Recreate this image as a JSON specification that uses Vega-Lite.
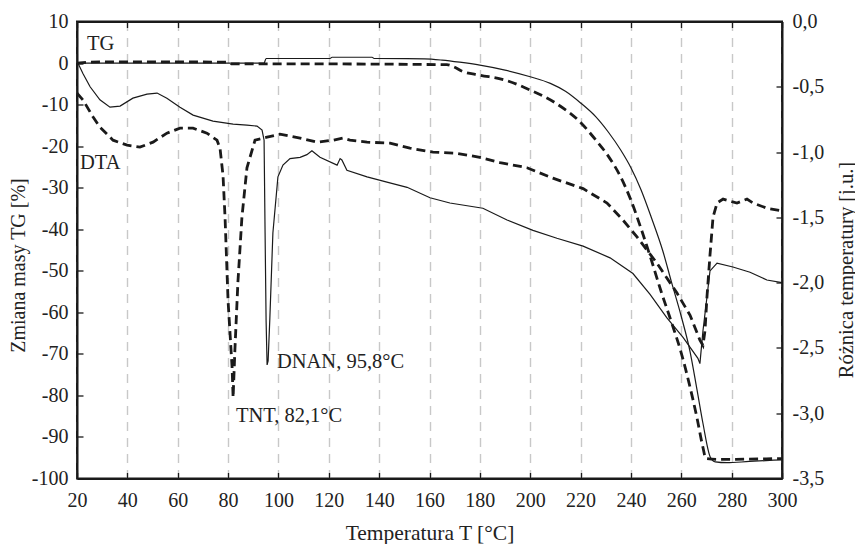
{
  "$schema": "https://vega.github.io/schema/vega-lite/v6.json",
  "width": 705,
  "height": 457,
  "autosize": "none",
  "padding": {"left": 77, "top": 21.5, "right": 73, "bottom": 65.5},
  "background": "white",
  "config": {
    "font": "Liberation Serif",
    "view": {"stroke": "#1a1a1a", "strokeWidth": 2},
    "axis": {
      "domainColor": "#1a1a1a",
      "domainWidth": 2,
      "tickColor": "#1a1a1a",
      "tickWidth": 1.3,
      "tickSize": -6,
      "labelFont": "Liberation Serif",
      "labelFontSize": 20,
      "labelColor": "#222222",
      "labelFlush": false,
      "labelOverlap": false,
      "titleFont": "Liberation Serif",
      "titleFontSize": 20,
      "titleFontWeight": "normal",
      "titleColor": "#222222",
      "grid": false
    }
  },
  "datasets": {
    "tg_dnan": [
      {"T": 20, "v": 0}, {"T": 94.3, "v": 0}, {"T": 95.1, "v": 1.1}, {"T": 120.5, "v": 1.1}, {"T": 121.3, "v": 1.4},
      {"T": 137.2, "v": 1.4}, {"T": 138, "v": 1.1}, {"T": 158, "v": 1.0}, {"T": 165, "v": 0.7}, {"T": 172, "v": 0.2},
      {"T": 180, "v": -0.5}, {"T": 190, "v": -1.7}, {"T": 200, "v": -3.3}, {"T": 208, "v": -4.9}, {"T": 214, "v": -6.8},
      {"T": 220, "v": -9.6}, {"T": 226, "v": -12.9}, {"T": 231, "v": -16.6}, {"T": 236, "v": -21}, {"T": 240, "v": -25.2},
      {"T": 244, "v": -30.5}, {"T": 248, "v": -37}, {"T": 252.7, "v": -45.3}, {"T": 256, "v": -52.5}, {"T": 260, "v": -61},
      {"T": 263.5, "v": -69.5}, {"T": 266.2, "v": -78.5}, {"T": 268.6, "v": -86.7}, {"T": 271.5, "v": -94.8},
      {"T": 273.5, "v": -96.0}, {"T": 278, "v": -96.2}, {"T": 287, "v": -95.9}, {"T": 300, "v": -95.5}
    ],
    "tg_tnt": [
      {"T": 20, "v": 0}, {"T": 29, "v": 0.3}, {"T": 49, "v": 0.3}, {"T": 80, "v": 0.2}, {"T": 81.6, "v": -0.2},
      {"T": 108.6, "v": -0.2}, {"T": 166.9, "v": -0.4}, {"T": 170, "v": -1.0}, {"T": 173, "v": -2.0}, {"T": 180, "v": -2.9},
      {"T": 190, "v": -4.1}, {"T": 200, "v": -6.5}, {"T": 210, "v": -9.6}, {"T": 220, "v": -14.3}, {"T": 226, "v": -18.5},
      {"T": 231, "v": -22.4}, {"T": 236, "v": -27.5}, {"T": 240, "v": -33}, {"T": 244, "v": -39.8}, {"T": 248, "v": -47.2},
      {"T": 252, "v": -55}, {"T": 256, "v": -62.2}, {"T": 260, "v": -69.8}, {"T": 263, "v": -76.8}, {"T": 266.2, "v": -85.3},
      {"T": 268.6, "v": -92.5}, {"T": 269.8, "v": -95.2}, {"T": 275, "v": -95.4}, {"T": 300, "v": -95.2}
    ],
    "dta_dnan": [
      {"T": 20.4, "v": -0.32}, {"T": 22.4, "v": -0.4}, {"T": 25.2, "v": -0.5}, {"T": 29.1, "v": -0.6}, {"T": 33.1, "v": -0.656},
      {"T": 37.1, "v": -0.648}, {"T": 42.2, "v": -0.587}, {"T": 47.8, "v": -0.556}, {"T": 51.8, "v": -0.548}, {"T": 55.7, "v": -0.587},
      {"T": 60.9, "v": -0.656}, {"T": 66.1, "v": -0.717}, {"T": 74.0, "v": -0.763}, {"T": 82.0, "v": -0.786}, {"T": 87.5, "v": -0.794},
      {"T": 91.5, "v": -0.801}, {"T": 93.5, "v": -0.832}, {"T": 94.3, "v": -0.909}, {"T": 94.7, "v": -1.62}, {"T": 95.1, "v": -2.29},
      {"T": 95.5, "v": -2.63}, {"T": 95.9, "v": -2.6}, {"T": 96.6, "v": -2.27}, {"T": 97.8, "v": -1.62}, {"T": 99.8, "v": -1.19},
      {"T": 101.8, "v": -1.1}, {"T": 104.6, "v": -1.05}, {"T": 108.6, "v": -1.04}, {"T": 111.3, "v": -1.02}, {"T": 113.3, "v": -0.99},
      {"T": 116.5, "v": -1.04}, {"T": 123.3, "v": -1.1}, {"T": 124.5, "v": -1.05}, {"T": 125.2, "v": -1.06}, {"T": 127.2, "v": -1.14},
      {"T": 135.2, "v": -1.19}, {"T": 143.1, "v": -1.23}, {"T": 151.1, "v": -1.27}, {"T": 160.2, "v": -1.35}, {"T": 168.1, "v": -1.39},
      {"T": 181.2, "v": -1.43}, {"T": 190.8, "v": -1.52}, {"T": 201.1, "v": -1.6}, {"T": 210.6, "v": -1.66}, {"T": 221, "v": -1.72},
      {"T": 231.7, "v": -1.81}, {"T": 240.8, "v": -1.93}, {"T": 247.6, "v": -2.09}, {"T": 254.3, "v": -2.27}, {"T": 260.7, "v": -2.42},
      {"T": 266.6, "v": -2.58}, {"T": 267.4, "v": -2.62}, {"T": 268.6, "v": -2.37}, {"T": 270.2, "v": -2.11}, {"T": 271.4, "v": -1.91},
      {"T": 274.2, "v": -1.85}, {"T": 280.5, "v": -1.88}, {"T": 287.3, "v": -1.92}, {"T": 294, "v": -1.98}, {"T": 300, "v": -2.0}
    ],
    "dta_tnt": [
      {"T": 20, "v": -0.548}, {"T": 22.4, "v": -0.602}, {"T": 26.4, "v": -0.732}, {"T": 29.1, "v": -0.809}, {"T": 34.3, "v": -0.909},
      {"T": 39.9, "v": -0.947}, {"T": 45.0, "v": -0.962}, {"T": 50.2, "v": -0.924}, {"T": 55.7, "v": -0.855}, {"T": 60.9, "v": -0.817},
      {"T": 66.1, "v": -0.817}, {"T": 71.6, "v": -0.855}, {"T": 75.6, "v": -0.909}, {"T": 76.8, "v": -0.97}, {"T": 78.0, "v": -1.18},
      {"T": 78.8, "v": -1.5}, {"T": 80.0, "v": -2.14}, {"T": 81.6, "v": -2.65}, {"T": 82.0, "v": -2.88}, {"T": 82.7, "v": -2.52},
      {"T": 83.9, "v": -2.0}, {"T": 85.5, "v": -1.5}, {"T": 87.5, "v": -1.12}, {"T": 90.7, "v": -0.909}, {"T": 95.5, "v": -0.886},
      {"T": 100.6, "v": -0.863}, {"T": 108.6, "v": -0.893}, {"T": 115.3, "v": -0.924}, {"T": 121.7, "v": -0.909}, {"T": 125.6, "v": -0.893},
      {"T": 128.4, "v": -0.909}, {"T": 135.2, "v": -0.924}, {"T": 144.3, "v": -0.932}, {"T": 152.2, "v": -0.97}, {"T": 161.4, "v": -1.0},
      {"T": 170.9, "v": -1.01}, {"T": 180.0, "v": -1.04}, {"T": 188.0, "v": -1.08}, {"T": 198.7, "v": -1.12}, {"T": 209.0, "v": -1.2},
      {"T": 221, "v": -1.28}, {"T": 230.5, "v": -1.39}, {"T": 236.8, "v": -1.52}, {"T": 242.4, "v": -1.65}, {"T": 250.3, "v": -1.85},
      {"T": 258.3, "v": -2.08}, {"T": 263.5, "v": -2.25}, {"T": 267.4, "v": -2.44}, {"T": 268.6, "v": -2.48}, {"T": 269.4, "v": -2.37},
      {"T": 270.2, "v": -2.11}, {"T": 271.4, "v": -1.79}, {"T": 272.6, "v": -1.5}, {"T": 274.2, "v": -1.39}, {"T": 276.6, "v": -1.36},
      {"T": 280.1, "v": -1.38}, {"T": 282.1, "v": -1.39}, {"T": 286.1, "v": -1.36}, {"T": 288.5, "v": -1.39}, {"T": 294.0, "v": -1.43},
      {"T": 300, "v": -1.45}
    ],
    "labels": [
      {"T": 24, "v": 3.1, "label": "TG"},
      {"T": 21.2, "v": -25.5, "label": "DTA"},
      {"T": 99.4, "v": -73.5, "label": "DNAN, 95,8°C"},
      {"T": 83.1, "v": -86.5, "label": "TNT, 82,1°C"}
    ]
  },
  "layer": [
    {
      "encoding": {
        "x": {
          "field": "T", "type": "quantitative",
          "scale": {"domain": [20, 300], "nice": false, "zero": false},
          "axis": {
            "orient": "bottom",
            "values": [20, 40, 60, 80, 100, 120, 140, 160, 180, 200, 220, 240, 260, 280, 300],
            "format": "d",
            "grid": true, "gridDash": [9, 7], "gridColor": "#c8c8c8", "gridWidth": 1.4,
            "labelPadding": 18,
            "title": "Temperatura T [°C]",
            "titleFontSize": 21.5,
            "titleBaseline": "alphabetic",
            "titleY": 60.5
          }
        },
        "y": {
          "field": "v", "type": "quantitative",
          "scale": {"domain": [-100, 10], "nice": false, "zero": false},
          "axis": {
            "orient": "left",
            "values": [-100, -90, -80, -70, -60, -50, -40, -30, -20, -10, 0, 10],
            "labelExpr": "'' + datum.value",
            "labelPadding": 15,
            "title": "Zmiana masy TG [%]",
            "titleAngle": 270,
            "titleAlign": "center",
            "titleBaseline": "middle",
            "titleX": -59,
            "titleY": 243.5
          }
        }
      },
      "layer": [
        {"data": {"name": "tg_dnan"}, "mark": {"type": "line", "color": "#1a1a1a", "strokeWidth": 1.2, "interpolate": "monotone"}},
        {"data": {"name": "tg_tnt"}, "mark": {"type": "line", "color": "#1a1a1a", "strokeWidth": 2.8, "strokeDash": [9, 5], "interpolate": "monotone"}},
        {
          "data": {"name": "labels"},
          "mark": {"type": "text", "align": "left", "baseline": "alphabetic", "font": "Liberation Serif", "fontSize": 20.5, "color": "#222222"},
          "encoding": {"text": {"field": "label"}}
        }
      ]
    },
    {
      "encoding": {
        "x": {
          "field": "T", "type": "quantitative",
          "scale": {"domain": [20, 300], "nice": false, "zero": false},
          "axis": {
            "orient": "top",
            "values": [20, 40, 60, 80, 100, 120, 140, 160, 180, 200, 220, 240, 260, 280, 300],
            "labels": false,
            "title": null,
            "grid": false
          }
        },
        "y": {
          "field": "v", "type": "quantitative",
          "scale": {"domain": [-3.5, 0], "nice": false, "zero": false},
          "axis": {
            "orient": "right",
            "values": [-3.5, -3, -2.5, -2, -1.5, -1, -0.5, 0],
            "labelExpr": "replace(replace(format(datum.value, '.1f'), '.', ','), '−', '-')",
            "labelPadding": 16,
            "title": "Różnica temperatury [j.u.]",
            "titleFontSize": 20.5,
            "titleAngle": 270,
            "titleAlign": "center",
            "titleBaseline": "middle",
            "titleX": 64,
            "titleY": 248
          }
        }
      },
      "layer": [
        {"data": {"name": "dta_dnan"}, "mark": {"type": "line", "color": "#1a1a1a", "strokeWidth": 1.2}},
        {"data": {"name": "dta_tnt"}, "mark": {"type": "line", "color": "#1a1a1a", "strokeWidth": 2.8, "strokeDash": [9, 5]}}
      ]
    }
  ],
  "resolve": {"scale": {"y": "independent"}, "axis": {"x": "independent", "y": "independent"}}
}
